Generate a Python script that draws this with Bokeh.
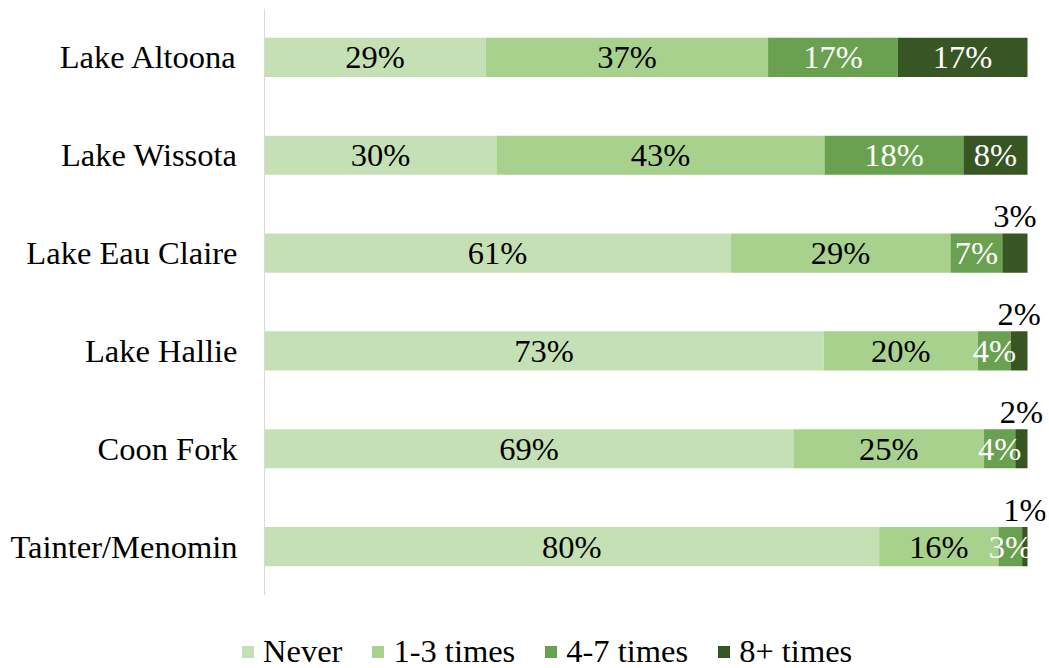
from bokeh.plotting import figure
from bokeh.layouts import column
from bokeh.models import ColumnDataSource, FactorRange, Range1d, Legend, LegendItem, Span
from bokeh.transform import dodge
from bokeh.core.properties import value
from bokeh.embed import file_html
from bokeh.resources import INLINE

# ---- data (percent of respondents) ----
lakes = ["Lake Altoona", "Lake Wissota", "Lake Eau Claire", "Lake Hallie", "Coon Fork", "Tainter/Menomin"]
series = ["Never", "1-3 times", "4-7 times", "8+ times"]
never = [29.0, 30.4, 61.1, 73.3, 69.4, 80.4]
times_1_3 = [37.0, 43.0, 28.8, 20.2, 25.0, 15.6]
times_4_7 = [17.0, 18.2, 6.8, 4.3, 4.1, 3.1]
times_8p = [17.0, 8.4, 3.3, 2.2, 1.6, 0.7]

colors = ["#c5e0b4", "#a9d18e", "#6aa150", "#375623"]
label_colors = ["black", "black", "white", "white"]
FONT = "Liberation Serif"
FS = "32.5px"

vals = [never, times_1_3, times_4_7, times_8p]
keys = ["s0", "s1", "s2", "s3"]
totals = [sum(v[i] for v in vals) for i in range(len(lakes))]
fracs = [[v[i] / totals[i] for i in range(len(lakes))] for v in vals]

data = {"lake": lakes}
for k, f in zip(keys, fracs):
    data[k] = f
src = ColumnDataSource(data)

p = figure(width=1046, height=605, output_backend="svg", toolbar_location=None,
           y_range=FactorRange(factors=list(reversed(lakes))),
           x_range=Range1d(-0.03145, 1.02359),
           min_border_left=240, min_border_right=1, min_border_top=8, min_border_bottom=10)

renderers = p.hbar_stack(keys, y="lake", height=0.4, color=colors, source=src, line_color=None)

# category axis line at 0 %
p.add_layout(Span(location=0, dimension="height", line_color="#d9d9d9", line_width=1))

# ---- labels ----
for j, k in enumerate(keys):
    xs_in, ys_in, tx_in = [], [], []
    xs_up, ys_up, tx_up = [], [], []
    for i, lake in enumerate(lakes):
        left = sum(fracs[m][i] for m in range(j))
        cx = left + fracs[j][i] / 2
        txt = f"{round(vals[j][i])}%"
        if j == 3 and vals[j][i] < 5:
            xs_up.append(cx); ys_up.append(lake); tx_up.append(txt)
        else:
            xs_in.append(cx); ys_in.append(lake); tx_in.append(txt)
    s_in = ColumnDataSource(dict(x=xs_in, y=ys_in, t=tx_in))
    p.text(x="x", y="y", text="t", source=s_in, text_align="center", text_baseline="middle",
           text_font=value(FONT), text_font_size=FS, text_color=label_colors[j])
    if xs_up:
        s_up = ColumnDataSource(dict(x=xs_up, y=ys_up, t=tx_up))
        p.text(x="x", y=dodge("y", 0.375, range=p.y_range), text="t", source=s_up,
               text_align="center", text_baseline="middle",
               text_font=value(FONT), text_font_size=FS, text_color="black")

# ---- axes ----
p.xaxis.visible = False
p.xgrid.grid_line_color = None
p.ygrid.grid_line_color = None
p.outline_line_color = None
p.yaxis.axis_line_color = None
p.yaxis.major_tick_line_color = None
p.yaxis.minor_tick_line_color = None
p.yaxis.major_tick_out = 0
p.yaxis.major_label_standoff = 3
p.yaxis.major_label_text_font = FONT
p.yaxis.major_label_text_font_size = FS
p.yaxis.major_label_text_color = "black"

# ---- legend (in its own strip below the chart) ----
lg = figure(width=1046, height=63, output_backend="svg", toolbar_location=None,
            x_range=Range1d(0, 1), y_range=Range1d(0, 1),
            min_border_left=240, min_border_right=1, min_border_top=28, min_border_bottom=0)
lg.axis.visible = False
lg.grid.grid_line_color = None
lg.outline_line_color = None
# legend proxies placed outside the visible range
proxy = ColumnDataSource(dict(x=[-5.0], y=[-5.0]))
dummies = [lg.rect(x="x", y="y", width=0.1, height=0.1, color=c, line_color=None, source=proxy)
           for c in colors]
legend = Legend(items=[LegendItem(label=s, renderers=[r]) for s, r in zip(series, dummies)],
                orientation="horizontal", location="top_left",
                label_text_font=FONT, label_text_font_size=FS, label_text_color="black",
                glyph_width=15, glyph_height=15, label_standoff=8, spacing=28,
                padding=0, margin=0, border_line_color=None, background_fill_alpha=0)
lg.add_layout(legend, "center")

layout = column(p, lg)
open("out.html", "w").write(file_html(layout, INLINE))
